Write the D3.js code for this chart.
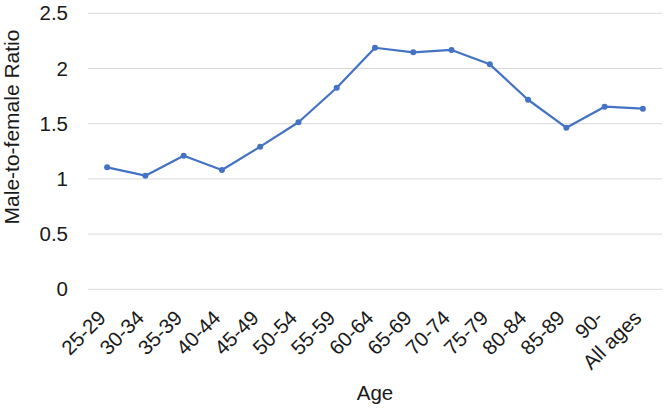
<!DOCTYPE html>
<html><head><meta charset="utf-8">
<script src="https://cdn.jsdelivr.net/npm/d3@7"></script>
<style>html,body{margin:0;padding:0;background:#fff;}svg{display:block;font-family:"Liberation Sans",Arial,sans-serif;}</style>
</head><body>
<svg id="c" width="664" height="409"></svg>
<script>
const categories = ["25-29","30-34","35-39","40-44","45-49","50-54","55-59","60-64","65-69","70-74","75-79","80-84","85-89","90-","All ages"];
const ratios = [1.105,1.029,1.21,1.08,1.292,1.513,1.826,2.188,2.147,2.168,2.038,1.717,1.464,1.654,1.636];
const yTicks = [0,0.5,1,1.5,2,2.5];
const yTickLabels = ["0","0.5","1","1.5","2","2.5"];

(function(){
const svg = d3.select("#c");
const mL = 88, mR = 662, mT = 13.3, mB = 289.3;
const FS = 20.5;
const x = d3.scaleBand().domain(categories).range([mL, mR]);
const y = d3.scaleLinear().domain([0, 2.5]).range([mB, mT]);

svg.append("g").selectAll("line").data(yTicks).join("line")
  .attr("x1", mL).attr("x2", mR)
  .attr("y1", d => y(d)).attr("y2", d => y(d))
  .attr("stroke", "#d9d9d9").attr("stroke-width", 1);

const yAxis = d3.axisLeft(y).tickValues(yTicks).tickFormat((d,i) => yTickLabels[i]).tickSize(0).tickPadding(0);
const gy = svg.append("g").attr("transform", `translate(${mL-20},0)`).call(yAxis);
gy.select(".domain").remove();
gy.selectAll("text").attr("font-size", FS).attr("fill", "#1a1a1a").attr("font-family", "Liberation Sans, Arial, sans-serif");

const xAxis = d3.axisBottom(x).tickSize(0).tickPadding(0);
const gx = svg.append("g").attr("transform", `translate(0,${mB})`).call(xAxis);
gx.select(".domain").remove();
gx.selectAll("text")
  .attr("font-size", FS).attr("fill", "#1a1a1a").attr("font-family", "Liberation Sans, Arial, sans-serif")
  .attr("text-anchor", "end").attr("dy", null).attr("y", 0)
  .attr("transform", "translate(-4,26) rotate(-45)")
  .attr("dominant-baseline", "middle");

svg.append("text").attr("x", (mL+mR)/2).attr("y", 400)
  .attr("text-anchor", "middle").attr("font-size", FS).attr("fill", "#1a1a1a").text("Age");
svg.append("text").attr("transform", `translate(19,127) rotate(-90)`)
  .attr("text-anchor", "middle").attr("font-size", 21).attr("fill", "#1a1a1a").text("Male-to-female Ratio");

const line = d3.line().x((d,i) => x(categories[i]) + x.bandwidth()/2).y(d => y(d));
svg.append("path").datum(ratios).attr("d", line)
  .attr("fill", "none").attr("stroke", "#4472C4").attr("stroke-width", 2.25).attr("stroke-linejoin", "round");
svg.append("g").selectAll("circle").data(ratios).join("circle")
  .attr("cx", (d,i) => x(categories[i]) + x.bandwidth()/2).attr("cy", d => y(d))
  .attr("r", 3).attr("fill", "#4472C4");
})();
</script>
</body></html>
